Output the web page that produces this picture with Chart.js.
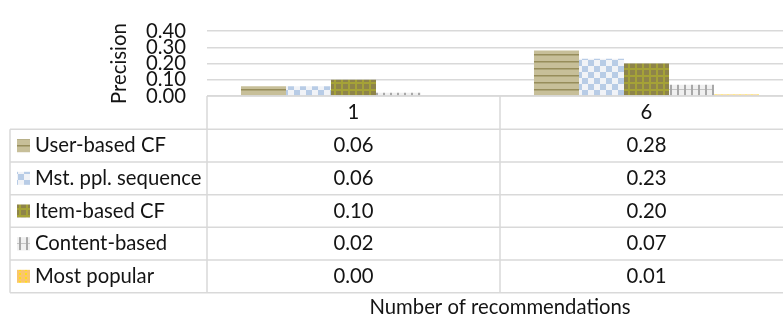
<!DOCTYPE html>
<html>
<head>
<meta charset="utf-8">
<script src="https://cdn.jsdelivr.net/npm/chart.js@4/dist/chart.umd.min.js"></script>
<style>
  html, body { margin: 0; padding: 0; background: #ffffff; overflow: hidden; }
  #wrap { width: 783px; height: 320px; overflow: hidden; position: relative; }
  canvas { display: block; }
</style>
</head>
<body>
<div id="wrap"><canvas id="chart" width="800" height="320" style="width:800px;height:320px"></canvas></div>
<script>
// Categories (number of recommendations) and precision per method
const categories = ['1', '6'];
const seriesNames = ['User-based CF', 'Mst. ppl. sequence', 'Item-based CF', 'Content-based', 'Most popular'];
const userBasedCF = [0.06, 0.28];
const mostPopularSequence = [0.06, 0.23];
const itemBasedCF = [0.10, 0.20];
const contentBased = [0.02, 0.07];
const mostPopular = [0.00, 0.01];
const yTicks = [0.00, 0.10, 0.20, 0.30, 0.40];

const FONT = 'Lato, "DejaVu Sans", sans-serif';
const FONT_SIZE = 20.3;
const TEXT = '#141414';
const LINE = '#d9d9d9';

// Pattern fills for the bars and the table swatches
function makePattern(w, h, paint) {
  const c = document.createElement('canvas');
  c.width = w; c.height = h;
  const g = c.getContext('2d');
  paint(g);
  return document.getElementById('chart').getContext('2d').createPattern(c, 'repeat');
}
const fills = [
  makePattern(7, 7, g => {            // horizontal stripes
    g.fillStyle = '#c7bf99'; g.fillRect(0, 0, 7, 7);
    g.fillStyle = '#978d5b'; g.fillRect(0, 5, 7, 1);
    g.fillStyle = '#aea679'; g.fillRect(0, 6, 7, 1);
  }),
  makePattern(12, 12, g => {          // checkerboard
    g.fillStyle = '#f1f3f7'; g.fillRect(0, 0, 12, 12);
    g.fillStyle = '#b8cce6'; g.fillRect(0, 0, 6, 6); g.fillRect(6, 6, 6, 6);
  }),
  makePattern(7, 7, g => {            // olive grid
    g.fillStyle = '#8e844a'; g.fillRect(0, 0, 7, 7);
    g.fillStyle = '#a5a237'; g.fillRect(0, 5, 7, 2); g.fillRect(5, 0, 2, 7);
  }),
  makePattern(7, 7, g => {            // light grey grid
    g.fillStyle = '#f0f0f0'; g.fillRect(0, 0, 7, 7);
    g.fillStyle = '#c4c4c4'; g.fillRect(0, 5, 7, 1);
    g.fillStyle = '#a8a8a8'; g.fillRect(5, 0, 2, 7);
  }),
  makePattern(6, 4, g => {            // dotted orange
    g.fillStyle = '#fac66c'; g.fillRect(0, 0, 6, 4);
    g.fillStyle = '#ffdc1a'; g.fillRect(1, 1, 2, 2);
  })
];

const seriesValues = [userBasedCF, mostPopularSequence, itemBasedCF, contentBased, mostPopular];

// Data table drawn under the plot, aligned with the category scale
const dataTable = {
  id: 'dataTable',
  afterDraw(chart) {
    const ctx = chart.ctx;
    const area = chart.chartArea;
    const x = chart.scales.x;
    const tableLeft = 10;
    const labelRight = area.left;
    const right = area.right;
    const headTop = area.bottom;
    const headBottom = headTop + 33.3;
    const rowH = 32.67;
    const rowsBottom = headBottom + rowH * seriesNames.length;
    const colEdges = [labelRight];
    for (let i = 0; i < categories.length - 1; i++) {
      colEdges.push((x.getPixelForValue(i) + x.getPixelForValue(i + 1)) / 2);
    }
    colEdges.push(right);

    ctx.save();
    ctx.strokeStyle = LINE;
    ctx.lineWidth = 1.5;
    const hLine = (x0, x1, y) => { ctx.beginPath(); ctx.moveTo(x0, y); ctx.lineTo(x1, y); ctx.stroke(); };
    const vLine = (xx, y0, y1) => { ctx.beginPath(); ctx.moveTo(xx, y0); ctx.lineTo(xx, y1); ctx.stroke(); };

    hLine(labelRight, right, headTop);
    for (let r = 0; r <= seriesNames.length; r++) hLine(tableLeft, right, headBottom + rowH * r);
    vLine(tableLeft, headBottom, rowsBottom);
    colEdges.forEach(e => vLine(e, headTop, rowsBottom));

    ctx.fillStyle = TEXT;
    ctx.font = FONT_SIZE + 'px ' + FONT;
    ctx.textBaseline = 'middle';
    ctx.textAlign = 'center';
    categories.forEach((c, i) => ctx.fillText(c, x.getPixelForValue(i), (headTop + headBottom) / 2));

    seriesNames.forEach((name, r) => {
      const cy = headBottom + rowH * (r + 0.5);
      ctx.fillStyle = fills[r];
      ctx.fillRect(17, cy - 6.5, 13, 13);
      ctx.fillStyle = TEXT;
      ctx.textAlign = 'left';
      ctx.fillText(name, 35, cy);
      ctx.textAlign = 'center';
      seriesValues[r].forEach((v, i) => ctx.fillText(v.toFixed(2), x.getPixelForValue(i), cy));
    });

    ctx.fillText('Number of recommendations', (area.left + area.right) / 2, 307);
    ctx.restore();
  }
};

new Chart(document.getElementById('chart'), {
  type: 'bar',
  data: {
    labels: categories,
    datasets: seriesNames.map((name, i) => ({
      label: name,
      data: seriesValues[i],
      backgroundColor: fills[i],
      borderWidth: 0,
      barPercentage: 1.0,
      categoryPercentage: 0.768
    }))
  },
  options: {
    responsive: false,
    animation: false,
    devicePixelRatio: 1,
    layout: { padding: { left: 107, top: 16, right: 7, bottom: 224 } },
    plugins: { legend: { display: false }, tooltip: { enabled: false } },
    scales: {
      x: { display: false },
      y: {
        min: 0,
        max: 0.4,
        afterBuildTicks: s => { s.ticks = yTicks.map(v => ({ value: v })); },
        afterFit: s => { s.width = 100; },
        border: { display: false },
        grid: { color: LINE, lineWidth: 1.5, drawTicks: false },
        ticks: {
          autoSkip: false,
          padding: 21,
          color: TEXT,
          font: { family: FONT, size: FONT_SIZE, lineHeight: 1.0 },
          callback: v => v.toFixed(2)
        },
        title: {
          display: true,
          text: 'Precision',
          color: TEXT,
          font: { family: FONT, size: FONT_SIZE },
          padding: 0
        }
      }
    }
  },
  plugins: [dataTable]
});
</script>
</body>
</html>
